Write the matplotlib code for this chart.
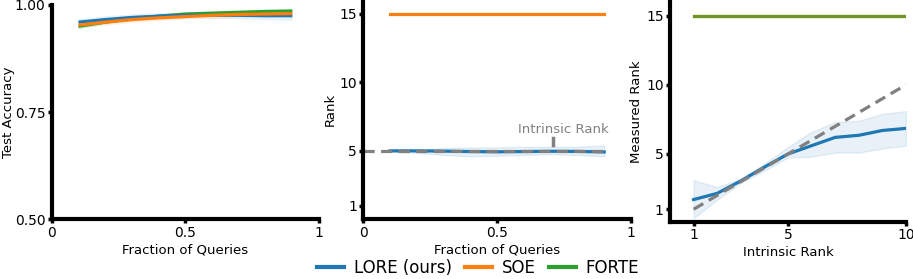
import numpy as np
import matplotlib
matplotlib.use("Agg")
import matplotlib.pyplot as plt
from matplotlib.lines import Line2D

# ---------------- data ----------------
frac = [0.1, 0.2, 0.3, 0.4, 0.5, 0.6, 0.7, 0.8, 0.9]
acc_lore = [0.960, 0.966, 0.971, 0.974, 0.976, 0.976, 0.976, 0.975, 0.975]
acc_lore_lo = [0.950, 0.957, 0.963, 0.967, 0.969, 0.969, 0.968, 0.966, 0.964]
acc_lore_hi = [0.968, 0.975, 0.979, 0.982, 0.983, 0.984, 0.985, 0.985, 0.986]
acc_soe = [0.953, 0.960, 0.966, 0.970, 0.973, 0.976, 0.978, 0.979, 0.980]
acc_soe_lo = [0.946, 0.953, 0.959, 0.963, 0.967, 0.969, 0.971, 0.972, 0.972]
acc_soe_hi = [0.960, 0.967, 0.973, 0.977, 0.980, 0.983, 0.985, 0.986, 0.988]
acc_forte = [0.950, 0.960, 0.968, 0.974, 0.979, 0.981, 0.983, 0.985, 0.986]
acc_forte_lo = [0.945, 0.955, 0.963, 0.969, 0.974, 0.977, 0.979, 0.980, 0.980]
acc_forte_hi = [0.955, 0.965, 0.973, 0.979, 0.984, 0.986, 0.988, 0.990, 0.991]

rank_lore = [5.0, 5.0, 4.98, 4.95, 4.93, 4.95, 4.97, 4.96, 4.92]
rank_lore_lo = [4.95, 4.85, 4.7, 4.6, 4.65, 4.7, 4.75, 4.7, 4.6]
rank_lore_hi = [5.05, 5.1, 5.2, 5.25, 5.25, 5.3, 5.3, 5.3, 5.4]
rank_soe = [15, 15, 15, 15, 15, 15, 15, 15, 15]
true_rank = 5

intr = [1, 2, 3, 4, 5, 6, 7, 8, 9, 10]
meas_lore = [1.7, 2.15, 3.05, 4.05, 5.0, 5.6, 6.2, 6.35, 6.7, 6.85]
meas_lore_lo = [0.35, 1.7, 2.9, 3.8, 4.75, 4.8, 5.1, 5.1, 5.4, 5.6]
meas_lore_hi = [3.1, 2.6, 3.2, 4.3, 5.5, 6.6, 7.3, 7.4, 7.9, 8.1]
meas_soe = [15] * 10
meas_forte = [15] * 10
ideal = [1, 10]

labels = ['LORE (ours)', 'SOE', 'FORTE']

C_BLUE = '#1f77b4'
C_ORANGE = '#ff7f0e'
C_GREEN = '#2ca02c'
LW = 2.3

plt.rcParams['font.family'] = ['DejaVu Sans']

fig = plt.figure(figsize=(9.13, 2.79), dpi=100)
W, H = 913, 279


def add_ax(x0, x1, ytop, ybot):
    return fig.add_axes([x0 / W, 1 - ybot / H, (x1 - x0) / W, (ybot - ytop) / H])


def style(ax):
    for s in ['top', 'right']:
        ax.spines[s].set_visible(False)
    for s in ['left', 'bottom']:
        ax.spines[s].set_linewidth(3)
    ax.tick_params(width=2.5, length=3, labelsize=10, pad=1.5)


ax1 = add_ax(51.7, 319, 5, 219.3)
ax2 = add_ax(363.3, 631, 0.3, 219.3)
ax3 = add_ax(670, 906, 1.9, 221.7)

# Panel 1
for lo, hi, c in [(acc_lore_lo, acc_lore_hi, C_BLUE),
                  (acc_forte_lo, acc_forte_hi, C_GREEN),
                  (acc_soe_lo, acc_soe_hi, C_ORANGE)]:
    ax1.fill_between(frac, lo, hi, color=c, alpha=0.1, lw=0)
for y, c in [(acc_forte, C_GREEN), (acc_lore, C_BLUE), (acc_soe, C_ORANGE)]:
    ax1.plot(frac, y, color=c, lw=LW, solid_capstyle='butt')
ax1.set_xlim(0, 1)
ax1.set_ylim(0.5, 1.0)
ax1.set_xticks([0, 0.5, 1])
ax1.set_xticklabels(['0', '0.5', '1'])
ax1.set_yticks([0.5, 0.75, 1.0])
ax1.set_yticklabels(['0.50', '0.75', '1.00'])
ax1.set_xlabel('Fraction of Queries', fontsize=9.5, labelpad=3)
ax1.set_ylabel('Test Accuracy', fontsize=9.5, labelpad=0)
style(ax1)

# Panel 2
ax2.fill_between(frac, rank_lore_lo, rank_lore_hi, color=C_BLUE, alpha=0.1, lw=1)
ax2.plot(frac, rank_lore, color=C_BLUE, lw=LW)
ax2.plot(frac, rank_soe, color=C_ORANGE, lw=LW)
ax2.plot([0, 0.9], [true_rank, true_rank], color='gray', lw=LW, ls=(0, (3.5, 2)))
ax2.text(0.746, 6.3, 'Intrinsic Rank', ha='center', va='baseline',
         color='gray', fontsize=9.5)
ax2.plot([0.709, 0.709], [5.44, 5.93], color='gray', lw=2.5)
ax2.set_xlim(0, 1)
ax2.set_ylim(0, 16)
ax2.set_xticks([0, 0.5, 1])
ax2.set_xticklabels(['0', '0.5', '1'])
ax2.set_yticks([1, 5, 10, 15])
ax2.set_xlabel('Fraction of Queries', fontsize=9.5, labelpad=3)
ax2.set_ylabel('Rank', fontsize=9.5, labelpad=2)
style(ax2)

# Panel 3
ax3.fill_between(intr, meas_lore_lo, meas_lore_hi, color=C_BLUE, alpha=0.1, lw=1)
ax3.plot(intr, meas_lore, color=C_BLUE, lw=LW)
ax3.plot(intr, meas_soe, color=C_ORANGE, lw=LW)
ax3.plot(intr, meas_forte, color=C_GREEN, lw=LW, alpha=0.7)
ax3.plot(ideal, ideal, color='gray', lw=LW, ls=(0, (3.5, 2)))
ax3.set_xlim(0, 10)
ax3.set_ylim(0.1, 16)
ax3.set_xticks([1, 5, 10])
ax3.set_yticks([1, 5, 10, 15])
ax3.set_xlabel('Intrinsic Rank', fontsize=9.5, labelpad=3)
ax3.set_ylabel('Measured Rank', fontsize=9.5, labelpad=2)
style(ax3)

handles = [Line2D([], [], color=C_BLUE, lw=3),
           Line2D([], [], color=C_ORANGE, lw=3),
           Line2D([], [], color=C_GREEN, lw=3)]
fig.legend(handles, labels, loc='center',
           bbox_to_anchor=(478 / W, 1 - 268 / H), ncol=3, frameon=False,
           fontsize=12, handlelength=1.65, handletextpad=0.55, columnspacing=0.8,
           borderpad=0)

fig.savefig('out.png', dpi=100)
